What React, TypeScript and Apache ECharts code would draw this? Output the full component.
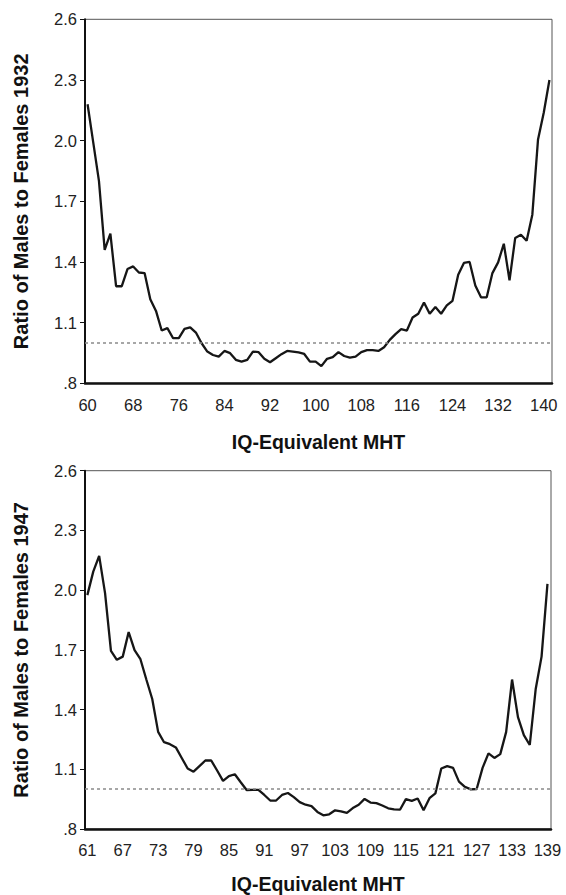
import React, { useEffect, useRef } from "react";
import * as echarts from "echarts";

// ---- Data: 1932 survey ----
const iq1932 = [
  60, 61, 62, 63, 64, 65, 66, 67, 68, 69, 70, 71, 72, 73, 74, 75, 76, 77, 78, 79,
  80, 81, 82, 83, 84, 85, 86, 87, 88, 89, 90, 91, 92, 93, 94, 95, 96, 97, 98, 99,
  100, 101, 102, 103, 104, 105, 106, 107, 108, 109, 110, 111, 112, 113, 114, 115,
  116, 117, 118, 119, 120, 121, 122, 123, 124, 125, 126, 127, 128, 129, 130, 131,
  132, 133, 134, 135, 136, 137, 138, 139, 140, 141,
];
const ratio1932 = [
  2.18, 1.99, 1.8, 1.46, 1.54, 1.28, 1.28, 1.365, 1.378, 1.348, 1.345, 1.216, 1.158,
  1.061, 1.073, 1.023, 1.023, 1.069, 1.077, 1.051, 0.998, 0.957, 0.94, 0.932, 0.96,
  0.949, 0.916, 0.907, 0.916, 0.957, 0.954, 0.921, 0.904, 0.924, 0.944, 0.96, 0.957,
  0.953, 0.945, 0.907, 0.907, 0.885, 0.921, 0.929, 0.954, 0.935, 0.927, 0.932, 0.954,
  0.964, 0.964, 0.96, 0.978, 1.015, 1.043, 1.068, 1.061, 1.125, 1.144, 1.2, 1.144,
  1.177, 1.144, 1.185, 1.208, 1.337, 1.395, 1.4, 1.284, 1.225, 1.225, 1.345, 1.398,
  1.49, 1.309, 1.519, 1.535, 1.505, 1.634, 2.006, 2.138, 2.3,
];
const xTicks1932 = [60, 68, 76, 84, 92, 100, 108, 116, 124, 132, 140];

// ---- Data: 1947 survey ----
const iq1947 = [
  61, 62, 63, 64, 65, 66, 67, 68, 69, 70, 71, 72, 73, 74, 75, 76, 77, 78, 79, 80,
  81, 82, 83, 84, 85, 86, 87, 88, 89, 90, 91, 92, 93, 94, 95, 96, 97, 98, 99, 100,
  101, 102, 103, 104, 105, 106, 107, 108, 109, 110, 111, 112, 113, 114, 115, 116,
  117, 118, 119, 120, 121, 122, 123, 124, 125, 126, 127, 128, 129, 130, 131, 132,
  133, 134, 135, 136, 137, 138, 139,
];
const ratio1947 = [
  1.975, 2.093, 2.172, 1.985, 1.695, 1.65, 1.666, 1.789, 1.699, 1.653, 1.551, 1.453,
  1.288, 1.236, 1.226, 1.21, 1.157, 1.104, 1.088, 1.116, 1.144, 1.144, 1.094, 1.042,
  1.066, 1.075, 1.035, 0.996, 0.997, 0.997, 0.971, 0.943, 0.943, 0.971, 0.981, 0.96,
  0.935, 0.922, 0.915, 0.886, 0.869, 0.874, 0.894, 0.889, 0.881, 0.905, 0.922, 0.951,
  0.933, 0.93, 0.918, 0.904, 0.899, 0.897, 0.95, 0.941, 0.953, 0.894, 0.955, 0.979,
  1.104, 1.116, 1.107, 1.038, 1.012, 0.999, 1.001, 1.107, 1.18, 1.157, 1.176, 1.288,
  1.551, 1.362, 1.272, 1.222, 1.502, 1.666, 2.031,
];
const xTicks1947 = [61, 67, 73, 79, 85, 91, 97, 103, 109, 115, 121, 127, 133, 139];

const yTicks = [0.8, 1.1, 1.4, 1.7, 2.0, 2.3, 2.6];
const parityLevel = 1.0;

const xTitle = "IQ-Equivalent MHT";
const yTitle1932 = "Ratio of Males to Females 1932";
const yTitle1947 = "Ratio of Males to Females 1947";

const FONT = "'Liberation Sans', Arial, sans-serif";

const fmtY = (v: number) => {
  const s = v.toFixed(1);
  return s.startsWith("0") ? s.slice(1) : s;
};

export default function App() {
  const ref = useRef<HTMLDivElement>(null);

  useEffect(() => {
    document.body.style.margin = "0";
    if (!ref.current) return;
    const chart = echarts.init(ref.current, null, { renderer: "svg" });

    const mkX = (gi: number, min: number, max: number, ticks: number[], margin: number, gap: number) => ({
      type: "value",
      gridIndex: gi,
      min,
      max,
      name: xTitle,
      nameLocation: "middle",
      nameGap: gap,
      nameTextStyle: { fontFamily: FONT, fontWeight: "bold", fontSize: 19.5, color: "#111" },
      axisLine: { show: true, onZero: false, lineStyle: { color: "#111", width: 2.5 } },
      axisTick: { show: false },
      splitLine: { show: false },
      axisLabel: {
        customValues: ticks,
        margin,
        fontFamily: FONT,
        fontSize: 16.5,
        color: "#222",
        formatter: (v: number) => String(Math.round(v)),
      },
    });

    const mkY = (gi: number, title: string) => ({
      type: "value",
      gridIndex: gi,
      min: 0.8,
      max: 2.6,
      name: title,
      nameLocation: "middle",
      nameRotate: 90,
      nameGap: 54,
      nameTextStyle: { fontFamily: FONT, fontWeight: "bold", fontSize: 20, color: "#111" },
      axisLine: { show: true, onZero: false, lineStyle: { color: "#111", width: 2 } },
      axisTick: { show: true, customValues: yTicks, length: 5, lineStyle: { color: "#111", width: 1 } },
      splitLine: { show: false },
      axisLabel: {
        customValues: yTicks,
        margin: 8,
        fontFamily: FONT,
        fontSize: 16.5,
        color: "#222",
        formatter: (v: number) => fmtY(v),
      },
    });

    const mkSeries = (gi: number, xs: number[], ys: number[]) => ({
      type: "line",
      xAxisIndex: gi,
      yAxisIndex: gi,
      data: xs.map((x, i) => [x, ys[i]]),
      showSymbol: false,
      symbol: "none",
      lineStyle: { color: "#161616", width: 2.3 },
      markLine: {
        silent: true,
        symbol: ["none", "none"],
        label: { show: false },
        lineStyle: { color: "#8a8a8a", type: [3, 3], width: 1.5 },
        data: [{ yAxis: parityLevel }],
      },
      z: 3,
    });

    chart.setOption({
      animation: false,
      backgroundColor: "#ffffff",
      grid: [
        { left: 85, top: 19.3, width: 467, height: 364, show: true, borderColor: "#555", borderWidth: 1, backgroundColor: "transparent" },
        { left: 85, top: 470.7, width: 466, height: 365, show: true, borderColor: "#555", borderWidth: 1, backgroundColor: "transparent" },
      ],
      xAxis: [mkX(0, 59.55, 141.45, xTicks1932, 13, 49), mkX(1, 60.6, 139.6, xTicks1947, 12, 45)],
      yAxis: [mkY(0, yTitle1932), mkY(1, yTitle1947)],
      series: [mkSeries(0, iq1932, ratio1932), mkSeries(1, iq1947, ratio1947)],
    });

    return () => chart.dispose();
  }, []);

  return (
    <div
      ref={ref}
      style={{ position: "absolute", left: 0, top: 0, width: 566, height: 895, background: "#fff" }}
    />
  );
}
